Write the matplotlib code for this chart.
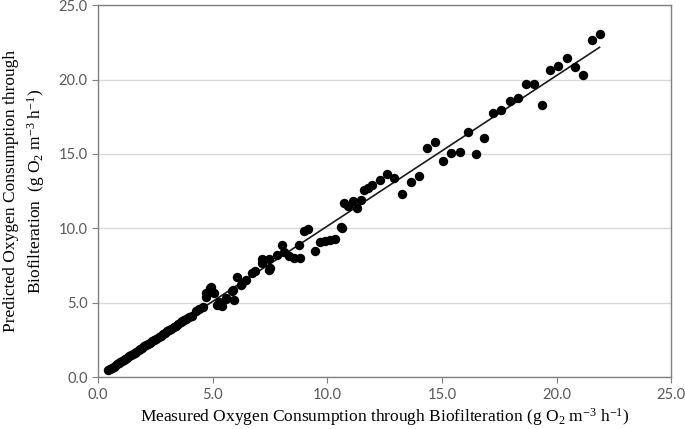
import numpy as np
import matplotlib
matplotlib.use("Agg")
from matplotlib import pyplot as plt

# measured vs predicted oxygen consumption (g O2 m-3 h-1)
measured = [
    0.45, 0.52, 0.60, 0.68, 0.75, 0.83, 0.90, 0.98, 1.05, 1.13,
    1.20, 1.28, 1.36, 1.44, 1.52, 1.60, 1.68, 1.77, 1.85, 1.94,
    2.02, 2.10, 2.19, 2.28, 2.37, 2.46, 2.55, 2.64, 2.73, 2.82,
    2.92, 3.01, 3.10, 3.20, 3.30, 3.40, 3.50, 3.60, 3.68, 3.76,
    3.85, 3.98, 4.10, 4.27, 4.40, 4.56, 4.70, 4.73, 4.87, 4.92,
    5.06, 5.21, 5.28, 5.40, 5.57, 5.57, 5.83, 5.89, 5.93, 6.08,
    6.22, 6.29, 6.44, 6.73, 6.84, 7.16, 7.16, 7.45, 7.48, 7.52,
    7.81, 8.03, 8.10, 8.32, 8.54, 8.75, 8.82, 8.97, 9.18, 9.45,
    9.69, 9.91, 10.13, 10.34, 10.60, 10.63, 10.75, 10.92, 11.10, 11.28,
    11.47, 11.62, 11.79, 11.97, 12.31, 12.60, 12.90, 13.25, 13.63, 13.99,
    14.35, 14.71, 15.05, 15.41, 15.77, 16.13, 16.49, 16.85, 17.22, 17.58,
    17.96, 18.30, 18.65, 19.00, 19.36, 19.72, 20.08, 20.44, 20.80, 21.15,
    21.53, 21.87,
]
predicted = [
    0.47, 0.53, 0.61, 0.70, 0.76, 0.85, 0.92, 1.00, 1.07, 1.15,
    1.23, 1.30, 1.39, 1.47, 1.55, 1.63, 1.72, 1.80, 1.89, 1.97,
    2.06, 2.14, 2.23, 2.32, 2.41, 2.50, 2.59, 2.69, 2.78, 2.87,
    2.97, 3.07, 3.16, 3.26, 3.37, 3.46, 3.57, 3.67, 3.78, 3.84,
    3.93, 4.06, 4.12, 4.47, 4.55, 4.74, 5.41, 5.68, 5.97, 6.04,
    5.63, 4.85, 5.07, 4.78, 5.23, 5.30, 5.82, 5.86, 5.19, 6.76,
    6.20, 6.31, 6.54, 6.98, 7.10, 7.70, 7.92, 7.92, 7.21, 7.32,
    8.22, 8.89, 8.38, 8.15, 7.99, 8.89, 7.99, 9.79, 9.95, 8.49,
    9.05, 9.12, 9.23, 9.28, 10.08, 10.02, 11.70, 11.48, 11.86, 11.34,
    11.93, 12.60, 12.71, 12.91, 13.23, 13.63, 13.41, 12.30, 13.11, 13.51,
    15.40, 15.81, 14.51, 15.05, 15.11, 16.49, 15.00, 16.10, 17.76, 17.94,
    18.53, 18.73, 19.71, 19.71, 18.26, 20.64, 20.91, 21.45, 20.84, 20.30,
    22.64, 23.09,
]
axis_ticks = [0, 5, 10, 15, 20, 25]

plt.rcParams["mathtext.fontset"] = "custom"
plt.rcParams["mathtext.rm"] = "Liberation Serif"

x = np.array(measured)
y = np.array(predicted)

fig = plt.figure(figsize=(6.85, 4.29), dpi=100)
ax = fig.add_axes([0.143, 0.121, 0.837, 0.867])

ax.scatter(x, y, s=46, color="black", zorder=3, linewidths=0)

# linear trendline over the measured range
slope, intercept = np.polyfit(x, y, 1)
xs = np.array([x.min(), x.max()])
ax.plot(xs, slope * xs + intercept, color="#1a1a1a", lw=1.2, zorder=2)

ax.set_xlim(0, 25)
ax.set_ylim(0, 25)
ax.set_xticks(axis_ticks)
ax.set_yticks(axis_ticks)
ax.set_xticklabels([f"{t:.1f}" for t in axis_ticks])
ax.set_yticklabels([f"{t:.1f}" for t in axis_ticks])
ax.yaxis.grid(True, color="#d9d9d9", lw=1)
ax.set_axisbelow(True)

for side in ["left", "bottom", "top", "right"]:
    ax.spines[side].set_color("#808080")
    ax.spines[side].set_linewidth(1)

ax.tick_params(direction="out", length=4, color="#808080", labelcolor="#595959",
               labelsize=10.5)
for lab in ax.get_xticklabels() + ax.get_yticklabels():
    lab.set_family("Lato")

unit = r"(g O$\mathregular{_2}$ m$\mathregular{^{-3}}$ h$\mathregular{^{-1}}$)"
ax.set_xlabel("Measured Oxygen Consumption through Biofilteration " + unit,
              family="Liberation Serif", fontsize=12.5, labelpad=3)
ax.set_ylabel("Predicted Oxygen Consumption through\nBiofilteration  " + unit,
              family="Liberation Serif", fontsize=12.5, labelpad=8,
              linespacing=1.4)

plt.savefig("out.png", dpi=100)
